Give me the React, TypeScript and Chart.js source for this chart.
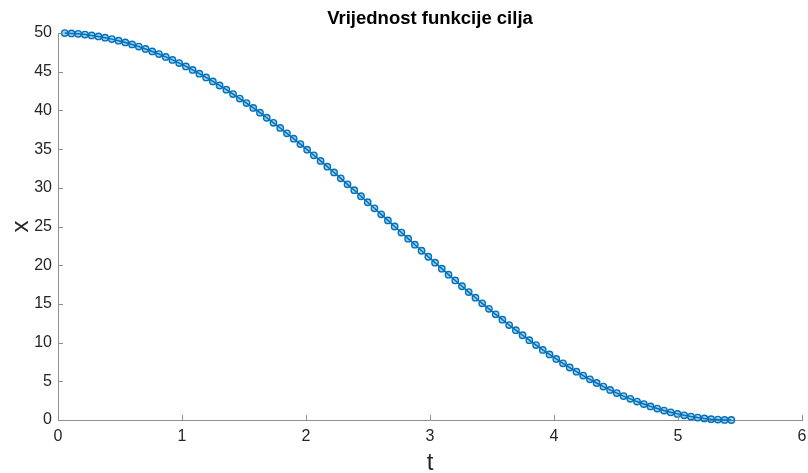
import React, { useEffect, useRef } from "react";
import { Chart, registerables } from "chart.js";

Chart.register(...registerables);

const chartTitle = "Vrijednost funkcije cilja";
const xAxisTitle = "t";
const yAxisTitle = "x";

const tValues: number[] = [
  0.0543, 0.1086, 0.1629, 0.2172, 0.2715, 0.3258, 0.3801, 0.4344, 0.4887, 0.543,
  0.5973, 0.6516, 0.7059, 0.7602, 0.8145, 0.8688, 0.9231, 0.9774, 1.0317, 1.086,
  1.1403, 1.1946, 1.2489, 1.3032, 1.3575, 1.4118, 1.4661, 1.5204, 1.5747, 1.629,
  1.6833, 1.7376, 1.7919, 1.8462, 1.9005, 1.9548, 2.0091, 2.0634, 2.1177, 2.172,
  2.2263, 2.2806, 2.3349, 2.3892, 2.4435, 2.4978, 2.5521, 2.6064, 2.6607, 2.715,
  2.7693, 2.8236, 2.8779, 2.9322, 2.9865, 3.0408, 3.0951, 3.1494, 3.2037, 3.258,
  3.3123, 3.3666, 3.4209, 3.4752, 3.5295, 3.5838, 3.6381, 3.6924, 3.7467, 3.801,
  3.8553, 3.9096, 3.9639, 4.0182, 4.0725, 4.1268, 4.1811, 4.2354, 4.2897, 4.344,
  4.3983, 4.4526, 4.5069, 4.5612, 4.6155, 4.6698, 4.7241, 4.7784, 4.8327, 4.887,
  4.9413, 4.9956, 5.0499, 5.1042, 5.1585, 5.2128, 5.2671, 5.3214, 5.3757, 5.43,
];

const xValues: number[] = [
  49.99, 49.95, 49.89, 49.8, 49.69, 49.56, 49.4, 49.21, 49.01, 48.78,
  48.52, 48.24, 47.94, 47.62, 47.28, 46.91, 46.52, 46.11, 45.68, 45.23,
  44.75, 44.26, 43.75, 43.22, 42.68, 42.11, 41.53, 40.94, 40.32, 39.7,
  39.05, 38.4, 37.73, 37.04, 36.35, 35.65, 34.93, 34.2, 33.47, 32.73,
  31.98, 31.22, 30.45, 29.69, 28.91, 28.13, 27.35, 26.57, 25.79, 25.0,
  24.22, 23.43, 22.65, 21.87, 21.09, 20.32, 19.55, 18.78, 18.03, 17.28,
  16.53, 15.8, 15.07, 14.36, 13.65, 12.96, 12.27, 11.6, 10.95, 10.31,
  9.68, 9.06, 8.47, 7.89, 7.32, 6.78, 6.25, 5.74, 5.25, 4.78,
  4.32, 3.89, 3.48, 3.09, 2.73, 2.38, 2.06, 1.76, 1.48, 1.22,
  0.99, 0.79, 0.6, 0.44, 0.31, 0.2, 0.11, 0.05, 0.01, 0.0,
];

const xTicks: number[] = [0, 1, 2, 3, 4, 5, 6];
const yTicks: number[] = [0, 5, 10, 15, 20, 25, 30, 35, 40, 45, 50];

const FONT = "'Liberation Sans', Arial, Helvetica, sans-serif";
const TEXT = "#262626";
const AXIS = "#8f8f8f";
const BLUE = "#0072BD";

const decorPlugin = {
  id: "matlabDecor",
  afterDraw(chart: any) {
    const { ctx, chartArea, scales } = chart;
    const { left, right, top, bottom } = chartArea;
    ctx.save();
    // inward tick marks
    ctx.strokeStyle = AXIS;
    ctx.lineWidth = 1;
    ctx.beginPath();
    for (const v of yTicks) {
      const py = Math.round(scales.y.getPixelForValue(v)) + 0.5;
      ctx.moveTo(left, py);
      ctx.lineTo(left + 5, py);
    }
    for (const v of xTicks) {
      const px = Math.round(scales.x.getPixelForValue(v)) + 0.5;
      ctx.moveTo(px, bottom);
      ctx.lineTo(px, bottom - 5);
    }
    ctx.stroke();
    // title
    const cx = (left + right) / 2;
    ctx.fillStyle = "#000";
    ctx.textAlign = "center";
    ctx.textBaseline = "alphabetic";
    ctx.font = `bold 18.5px ${FONT}`;
    ctx.fillText(chartTitle, cx, 24);
    // axis titles
    ctx.fillStyle = TEXT;
    ctx.font = `24px ${FONT}`;
    ctx.fillText(xAxisTitle, cx, 470);
    ctx.translate(28, (top + bottom) / 2);
    ctx.rotate(-Math.PI / 2);
    ctx.fillText(yAxisTitle, 0, 0);
    ctx.restore();
  },
};

export default function App() {
  const canvasRef = useRef<HTMLCanvasElement | null>(null);

  useEffect(() => {
    document.body.style.margin = "0";
    const canvas = canvasRef.current;
    if (!canvas) return;
    const points = tValues.map((t, i) => ({ x: t, y: xValues[i] }));
    const chart = new Chart(canvas, {
      type: "line",
      data: {
        datasets: [
          {
            data: points,
            borderColor: BLUE,
            borderWidth: 1.5,
            pointRadius: 3.2,
            pointBorderWidth: 1.4,
            pointBorderColor: BLUE,
            pointBackgroundColor: "rgba(0,114,189,0.35)",
            pointStyle: "circle",
            tension: 0,
            clip: false,
          } as any,
        ],
      },
      options: {
        animation: false,
        responsive: false,
        maintainAspectRatio: false,
        layout: { padding: { top: 33, right: 6, left: 0, bottom: 0 } },
        plugins: {
          legend: { display: false },
          title: { display: false },
          tooltip: { enabled: false },
        },
        scales: {
          x: {
            type: "linear",
            min: 0,
            max: 6,
            afterFit: (s: any) => {
              s.height = 53;
              s.paddingLeft = 0;
              s.paddingRight = 0;
            },
            afterBuildTicks: (s: any) => {
              s.ticks = xTicks.map((v) => ({ value: v }));
            },
            ticks: {
              color: TEXT,
              font: { family: FONT, size: 16 },
              padding: 7,
              maxRotation: 0,
            },
            grid: { display: false, drawTicks: false, drawOnChartArea: false },
            border: { display: true, color: AXIS, width: 1 },
          },
          y: {
            type: "linear",
            min: 0,
            max: 50,
            afterFit: (s: any) => {
              s.width = 58;
              s.paddingTop = 0;
              s.paddingBottom = 0;
            },
            afterBuildTicks: (s: any) => {
              s.ticks = yTicks.map((v) => ({ value: v }));
            },
            ticks: {
              color: TEXT,
              font: { family: FONT, size: 16 },
              padding: 6,
            },
            grid: { display: false, drawTicks: false, drawOnChartArea: false },
            border: { display: true, color: AXIS, width: 1 },
          },
        },
      },
      plugins: [decorPlugin],
    });
    return () => chart.destroy();
  }, []);

  return (
    <div style={{ position: "absolute", left: 0, top: 0, width: 808, height: 473 }}>
      <canvas ref={canvasRef} width={808} height={473} style={{ width: 808, height: 473 }} />
    </div>
  );
}
